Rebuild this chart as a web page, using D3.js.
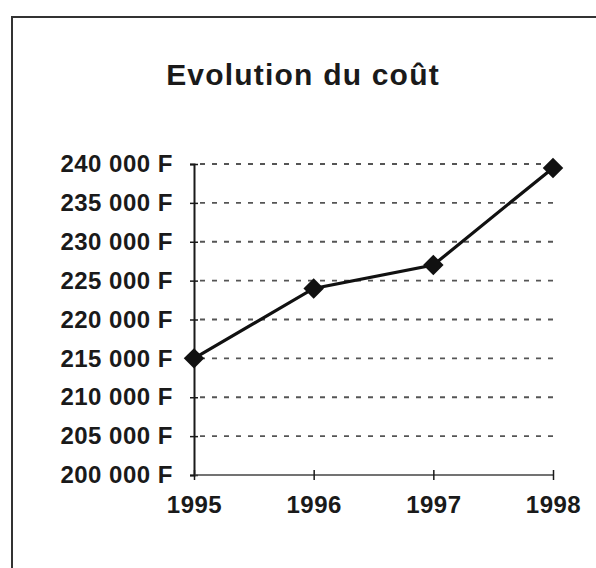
<!DOCTYPE html>
<html>
<head>
<meta charset="utf-8">
<script src="https://cdn.jsdelivr.net/npm/d3@7"></script>
<style>
  html, body { margin: 0; padding: 0; background: #fff; }
  svg { display: block; }
  text { font-family: "Liberation Sans", Arial, sans-serif; fill: #1a1a1a; }
</style>
</head>
<body>
<div id="chart"></div>
<script>
const width = 596;
const height = 568;
const chartTitle = "Evolution du coût";

// values
const years = [1995, 1996, 1997, 1998];
const costs = [215000, 224000, 227000, 239500];
const yTicks = [200000, 205000, 210000, 215000, 220000, 225000, 230000, 235000, 240000];

const plotLeft = 194;
const plotRight = 553;
const plotTop = 164;
const plotBottom = 475;

const francs = d3.formatLocale({ decimal: ",", thousands: " ", grouping: [3], currency: ["", " F"] }).format("$,");

const svg = d3.select("#chart")
    .append("svg")
        .attr("width", width)
        .attr("height", height);

// frame of the scanned chart area (only top and left edges show)
svg.append("path")
    .attr("d", "M12," + height + "V17H" + width)
    .attr("fill", "none")
    .attr("stroke", "#333")
    .attr("stroke-width", 2);

svg.append("text")
    .attr("x", 303)
    .attr("y", 85)
    .attr("text-anchor", "middle")
    .attr("font-size", 30)
    .attr("font-weight", "bold")
    .attr("letter-spacing", 1.2)
    .text(chartTitle);

const x = d3.scalePoint()
    .domain(years)
    .range([plotLeft, plotRight]);

const y = d3.scaleLinear()
    .domain([200000, 240000])
    .range([plotBottom, plotTop]);

// dashed grid lines
svg.append("g")
    .attr("id", "grid")
    .selectAll("line")
    .data(yTicks.filter(v => v > 200000))
    .enter()
    .append("line")
        .attr("x1", plotLeft + 6)
        .attr("x2", plotRight)
        .attr("y1", d => y(d))
        .attr("y2", d => y(d))
        .attr("stroke", "#555")
        .attr("stroke-width", 1.8)
        .attr("stroke-dasharray", "5,7");

// y axis: ticks cross the axis line
const yAxis = svg.append("g")
    .attr("transform", "translate(" + plotLeft + ",0)")
    .call(d3.axisLeft(y).tickValues(yTicks).tickSize(4).tickPadding(17).tickFormat(francs));
yAxis.select(".domain").attr("stroke", "#1a1a1a").attr("stroke-width", 2);
yAxis.selectAll(".tick line").attr("x2", 4).attr("x1", -4).attr("stroke", "#1a1a1a").attr("stroke-width", 1.5);
yAxis.selectAll(".tick text")
    .attr("font-size", 24)
    .attr("font-weight", "bold")
    .attr("letter-spacing", 0.5)
    .attr("fill", "#1a1a1a");

// x axis at 200 000 F
const xAxis = svg.append("g")
    .attr("transform", "translate(0," + plotBottom + ")")
    .call(d3.axisBottom(x).tickSize(5).tickPadding(16).tickFormat(d3.format("d")));
xAxis.select(".domain").attr("d", "M" + plotLeft + ",0H" + plotRight).attr("stroke", "#444").attr("stroke-width", 1.5);
xAxis.selectAll(".tick line").attr("y1", -5).attr("y2", 5).attr("stroke", "#1a1a1a").attr("stroke-width", 1.5);
xAxis.selectAll(".tick text")
    .attr("font-size", 24)
    .attr("font-weight", "bold")
    .attr("letter-spacing", 0.5)
    .attr("fill", "#1a1a1a");

const points = years.map((yr, i) => ({ year: yr, cost: costs[i] }));

svg.append("path")
    .datum(points)
    .attr("fill", "none")
    .attr("stroke", "#111")
    .attr("stroke-width", 3.2)
    .attr("d", d3.line().x(d => x(d.year)).y(d => y(d.cost)));

// diamond markers (a rotated square)
svg.append("g")
    .selectAll("path")
    .data(points)
    .enter()
    .append("path")
        .attr("d", d3.symbol().type(d3.symbolSquare).size(210))
        .attr("transform", d => "translate(" + x(d.year) + "," + y(d.cost) + ") rotate(45)")
        .attr("fill", "#111");
</script>
</body>
</html>
